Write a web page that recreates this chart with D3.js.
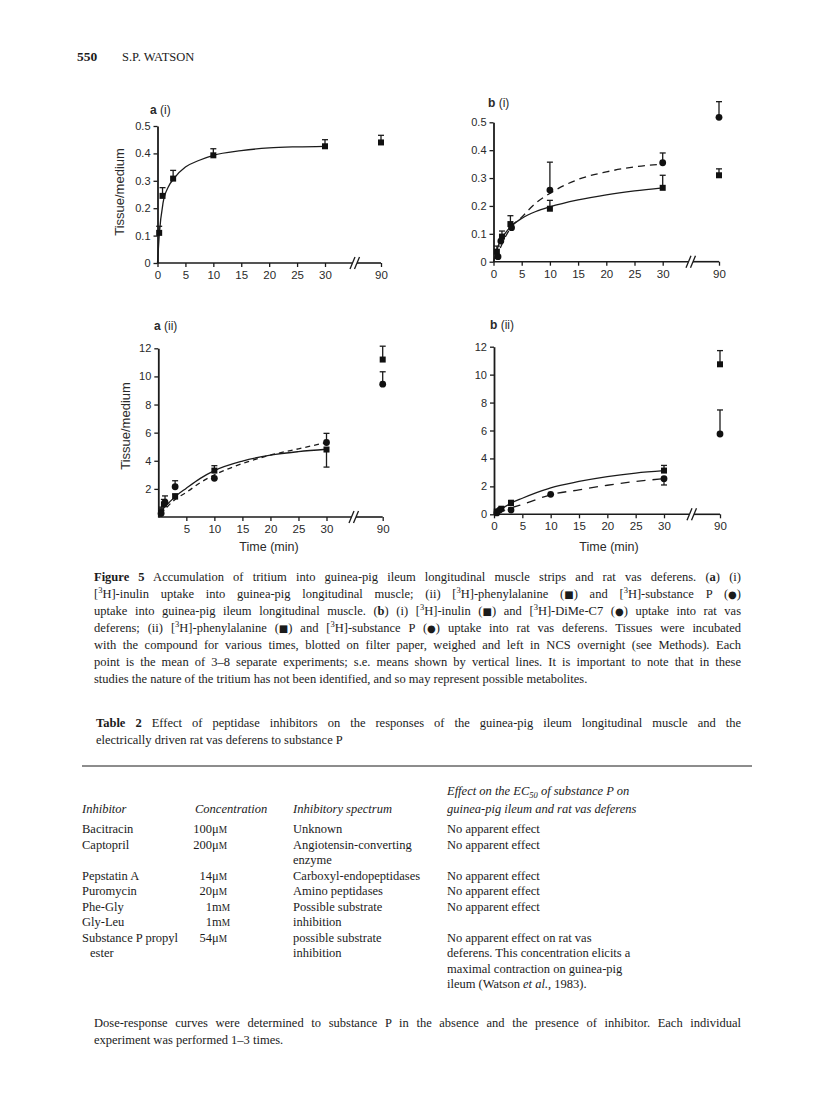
<!DOCTYPE html>
<html>
<head>
<meta charset="utf-8">
<script src="https://cdn.jsdelivr.net/npm/d3@7"></script>
<style>
  body { margin: 0; background: #fff; }
  svg text { font-family: "Liberation Serif", "Times New Roman", serif; fill: #1b1b1b; }
  svg .fig text { font-family: "Liberation Sans", Arial, sans-serif; fill: #2a2a2a; }
</style>
</head>
<body>
<svg id="page" width="816" height="1113"></svg>
<script>
// ---------------- data ----------------
// a (i) [3H]-inulin, guinea-pig ileum
var a1_sq_t  = [0.3, 0.9, 2.8, 10, 30, 90];
var a1_sq    = [0.11, 0.245, 0.308, 0.393, 0.426, 0.44];
var a1_sq_se = [0.024, 0.03, 0.03, 0.024, 0.024, 0.026];
var a1_fit_t = [0, 0.3, 1, 2, 3, 5, 7.5, 10, 15, 20, 25, 30];
var a1_fit   = [0, 0.1, 0.22, 0.28, 0.31, 0.35, 0.375, 0.393, 0.41, 0.42, 0.424, 0.426];

// b (i) [3H]-inulin (squares) and [3H]-DiMe-C7 (circles), rat vas deferens
var b1_sq_t  = [0.6, 1.5, 3, 10, 30, 90];
var b1_sq    = [0.036, 0.09, 0.135, 0.19, 0.265, 0.31];
var b1_sq_se = [0.02, 0.02, 0.03, 0.03, 0.045, 0.023];
var b1_ci_t  = [0.8, 1.3, 3.2, 10, 30, 90];
var b1_ci    = [0.018, 0.074, 0.122, 0.257, 0.355, 0.518];
var b1_ci_se = [0, 0, 0, 0.1, 0.035, 0.056];
var b1_fit_sq_t = [0, 0.5, 1, 2, 3, 5, 7.5, 10, 15, 20, 25, 30];
var b1_fit_sq   = [0, 0.035, 0.065, 0.1, 0.125, 0.155, 0.18, 0.197, 0.222, 0.24, 0.254, 0.265];
var b1_fit_ci_t = [0.3, 1, 2, 3, 5, 7.5, 10, 15, 20, 25, 30];
var b1_fit_ci   = [0.01, 0.04, 0.085, 0.12, 0.16, 0.21, 0.245, 0.295, 0.322, 0.34, 0.35];

// a (ii) [3H]-phenylalanine (squares) and [3H]-substance P (circles), guinea-pig ileum
var a2_sq_t  = [0.5, 1, 3, 10, 30, 90];
var a2_sq    = [0.4, 0.9, 1.45, 3.3, 4.8, 11.2];
var a2_sq_se = [0.3, 0.35, 0.2, 0.35, -1.25, 0.95];
var a2_ci_t  = [0.5, 1.2, 3, 10, 30, 90];
var a2_ci    = [0.25, 1.05, 2.15, 2.75, 5.3, 9.45];
var a2_ci_se = [0.3, 0.45, 0.43, 0, 0.65, 0.88];
var a2_fit_sq_t = [0.3, 1, 3, 5, 7.5, 10, 15, 20, 25, 30];
var a2_fit_sq   = [0.38, 0.65, 1.45, 2.05, 2.75, 3.3, 3.98, 4.4, 4.65, 4.82];
var a2_fit_ci_t = [0.5, 1, 3, 5, 7.5, 10, 15, 20, 25, 30];
var a2_fit_ci   = [0.2, 0.45, 1.25, 1.75, 2.45, 3.0, 3.8, 4.4, 4.85, 5.3];

// b (ii) [3H]-phenylalanine (squares) and [3H]-substance P (circles), rat vas deferens
var b2_sq_t  = [0.5, 1.3, 3, 30, 90];
var b2_sq    = [0.2, 0.4, 0.8, 3.13, 10.74];
var b2_sq_se = [0.1, 0.1, 0.2, 0.37, 0.98];
var b2_ci_t  = [0.5, 1, 3, 10, 30, 90];
var b2_ci    = [0.1, 0.3, 0.3, 1.43, 2.55, 5.75];
var b2_ci_se = [0, 0.1, 0.15, 0, -0.45, 1.72];
var b2_fit_sq_t = [0.3, 1, 3, 5, 7.5, 10, 15, 20, 25, 30];
var b2_fit_sq   = [0.1, 0.3, 0.8, 1.15, 1.55, 1.9, 2.35, 2.7, 2.95, 3.12];
var b2_fit_ci_t = [0.5, 1, 3, 5, 10, 15, 20, 25, 30];
var b2_fit_ci   = [0.05, 0.15, 0.45, 0.7, 1.4, 1.75, 2.08, 2.35, 2.55];

// tick labels
var xTicksFull   = [0, 5, 10, 15, 20, 25, 30, 90];
var xTicksNoZero = [5, 10, 15, 20, 25, 30, 90];
var yTicksSmall  = [0, 0.1, 0.2, 0.3, 0.4, 0.5];
var yTicksLarge  = [0, 2, 4, 6, 8, 10, 12];
var yTicksLargeNoZero = [2, 4, 6, 8, 10, 12];

var svg = d3.select("#page");

// panel frames, measured on the page
var panels = [
  {title: ["a", " (i)"], tx: 150, ty: 114, xl: 157.5, x30: 325, x90: 381, brk: 355, yb: 263, yt: 126, ymax: 0.5,
   yticks: yTicksSmall, xticks: xTicksFull, ylab: [124, 192], xlab: null,
   pts: [{t: a1_sq_t, v: a1_sq, se: a1_sq_se, shape: "sq"}],
   fits: [{t: a1_fit_t, v: a1_fit, dash: null}]},
  {title: ["b", " (i)"], tx: 488, ty: 107, xl: 493.5, x30: 662.7, x90: 719, brk: 691, yb: 261.7, yt: 122.3, ymax: 0.5,
   yticks: yTicksSmall, xticks: xTicksFull, ylab: null, xlab: null,
   pts: [{t: b1_sq_t, v: b1_sq, se: b1_sq_se, shape: "sq"}, {t: b1_ci_t, v: b1_ci, se: b1_ci_se, shape: "ci"}],
   fits: [{t: b1_fit_sq_t, v: b1_fit_sq, dash: null}, {t: b1_fit_ci_t, v: b1_fit_ci, dash: "7,5"}]},
  {title: ["a", " (ii)"], tx: 154, ty: 330, xl: 158.3, x30: 326.5, x90: 382.7, brk: 354, yb: 517, yt: 348.3, ymax: 12,
   yticks: yTicksLargeNoZero, xticks: xTicksNoZero, ylab: [130, 426], xlab: [269, 551],
   pts: [{t: a2_sq_t, v: a2_sq, se: a2_sq_se, shape: "sq"}, {t: a2_ci_t, v: a2_ci, se: a2_ci_se, shape: "ci"}],
   fits: [{t: a2_fit_sq_t, v: a2_fit_sq, dash: null}, {t: a2_fit_ci_t, v: a2_fit_ci, dash: "5,4"}]},
  {title: ["b", " (ii)"], tx: 490, ty: 329, xl: 494, x30: 664, x90: 720, brk: 692, yb: 514.3, yt: 346.7, ymax: 12,
   yticks: yTicksLarge, xticks: xTicksFull, ylab: null, xlab: [609, 551],
   pts: [{t: b2_sq_t, v: b2_sq, se: b2_sq_se, shape: "sq"}, {t: b2_ci_t, v: b2_ci, se: b2_ci_se, shape: "ci"}],
   fits: [{t: b2_fit_sq_t, v: b2_fit_sq, dash: null}, {t: b2_fit_ci_t, v: b2_fit_ci, dash: "9,7"}]}
];

panels.forEach(function(p) {
  var g = svg.append("g").attr("class", "fig").style("color", "#1b1b1b");

  // x has a broken axis: 0-30 then a jump to 90
  var x = d3.scaleLinear().domain([0, 30, 90]).range([p.xl, p.x30, p.x90]);
  var y = d3.scaleLinear().domain([0, p.ymax]).range([p.yb, p.yt]);

  var fmt = p.ymax < 1 ? function(d) { return d === 0 ? "0" : d3.format(".1f")(d); } : d3.format("d");

  var ya = g.append("g")
    .attr("transform", "translate(" + p.xl + ",0)")
    .call(d3.axisLeft(y).tickValues(p.yticks).tickSize(4).tickSizeOuter(0).tickPadding(3).tickFormat(fmt));
  ya.select(".domain").attr("stroke-width", 1.8);
  ya.selectAll(".tick line").attr("stroke-width", 1.3);
  ya.selectAll(".tick text").style("font-size", "11px");

  var xa = g.append("g")
    .attr("transform", "translate(0," + p.yb + ")")
    .call(d3.axisBottom(x).tickValues(p.xticks).tickSize(4).tickPadding(4).tickFormat(d3.format("d")));
  xa.select(".domain").remove();
  xa.selectAll(".tick line").attr("stroke-width", 1.3);
  xa.selectAll(".tick text").style("font-size", "11.5px");

  // axis line with the break
  g.append("line").attr("x1", p.xl).attr("x2", p.brk - 3).attr("y1", p.yb).attr("y2", p.yb)
    .attr("stroke", "#1b1b1b").attr("stroke-width", 1.6);
  g.append("line").attr("x1", p.brk + 2).attr("x2", p.x90).attr("y1", p.yb).attr("y2", p.yb)
    .attr("stroke", "#1b1b1b").attr("stroke-width", 1.6);
  [-2.5, 2].forEach(function(o) {
    g.append("line")
      .attr("x1", p.brk + o - 2.5).attr("y1", p.yb + 6)
      .attr("x2", p.brk + o + 2.5).attr("y2", p.yb - 6)
      .attr("stroke", "#1b1b1b").attr("stroke-width", 1.3);
  });

  // fitted curves
  p.fits.forEach(function(f) {
    var pts = f.t.map(function(t, i) { return [t, f.v[i]]; });
    g.append("path")
      .attr("d", d3.line().x(function(d) { return x(d[0]); }).y(function(d) { return y(d[1]); })
        .curve(d3.curveMonotoneX)(pts))
      .attr("fill", "none").attr("stroke", "#1b1b1b").attr("stroke-width", 1.3)
      .attr("stroke-dasharray", f.dash);
  });

  // points with s.e. bars
  p.pts.forEach(function(s) {
    s.t.forEach(function(t, i) {
      var cx = x(t), cy = y(s.v[i]);
      if (s.se[i] !== 0) {
        var ey = y(s.v[i] + s.se[i]);
        g.append("line").attr("x1", cx).attr("x2", cx).attr("y1", cy).attr("y2", ey)
          .attr("stroke", "#1b1b1b").attr("stroke-width", 1.3);
        g.append("line").attr("x1", cx - 3).attr("x2", cx + 3).attr("y1", ey).attr("y2", ey)
          .attr("stroke", "#1b1b1b").attr("stroke-width", 1.3);
      }
      if (s.shape === "sq") {
        g.append("rect").attr("x", cx - 3).attr("y", cy - 3).attr("width", 6).attr("height", 6).attr("fill", "#111");
      } else {
        g.append("circle").attr("cx", cx).attr("cy", cy).attr("r", 3.4).attr("fill", "#111");
      }
    });
  });

  // labels
  var tt = g.append("text").attr("x", p.tx).attr("y", p.ty).style("font-size", "12px");
  tt.append("tspan").style("font-weight", "bold").text(p.title[0]);
  tt.append("tspan").text(p.title[1]);

  if (p.ylab) {
    g.append("text").attr("transform", "translate(" + p.ylab[0] + "," + p.ylab[1] + ") rotate(-90)")
      .attr("text-anchor", "middle").style("font-size", "13px")
      .text("Tissue/medium");
  }
  if (p.xlab) {
    g.append("text").attr("x", p.xlab[0]).attr("y", p.xlab[1]).attr("text-anchor", "middle")
      .style("font-size", "12.5px").text("Time (min)");
  }
});

// ---------------- page text ----------------
// each line: list of [text, style]; style: b bold, i italic, sup, sub, sc small caps
function writeLine(x, y, segs, size, width) {
  var t = svg.append("text").attr("x", x).attr("y", y).style("font-size", size + "px");
  var shift = 0;
  segs.forEach(function(s) {
    var sp = t.append("tspan").text(s[0]);
    var want = 0;
    if (s[1] === "b") sp.style("font-weight", "bold");
    if (s[1] === "i") sp.style("font-style", "italic");
    if (s[1] === "sup") { want = -5; sp.style("font-size", (size * 0.68) + "px"); }
    if (s[1] === "isub") { want = 2.5; sp.style("font-size", (size * 0.68) + "px").style("font-style", "italic"); }
    if (s[1] === "sc") sp.style("font-size", (size * 0.75) + "px");
    if (s[1] === "sym") sp.style("font-size", (size * 0.8) + "px").style("font-family", "'DejaVu Sans'");
    if (want !== shift) { sp.attr("dy", want - shift); shift = want; }
  });
  if (width) {
    // justify: spread the slack over the word gaps
    var natural = t.node().getComputedTextLength();
    var gaps = segs.map(function(s) { return s[0]; }).join("").split(" ").length - 1;
    if (gaps > 0) t.style("word-spacing", ((width - natural) / gaps) + "px");
  }
  return t;
}

var SQ = ["\u25a0", "sym"], CI = ["\u25cf", "sym"], S3 = ["3", "sup"];

var captionLines = [
  [["Figure 5", "b"], [" Accumulation of tritium into guinea-pig ileum longitudinal muscle strips and rat vas deferens. ("], ["a", "b"], [") (i)"]],
  [["["], S3, ["H]-inulin uptake into guinea-pig longitudinal muscle; (ii) ["], S3, ["H]-phenylalanine ("], SQ, [") and ["], S3, ["H]-substance P ("], CI, [")"]],
  [["uptake into guinea-pig ileum longitudinal muscle. ("], ["b", "b"], [") (i) ["], S3, ["H]-inulin ("], SQ, [") and ["], S3, ["H]-DiMe-C7 ("], CI, [") uptake into rat vas"]],
  [["deferens; (ii) ["], S3, ["H]-phenylalanine ("], SQ, [") and ["], S3, ["H]-substance P ("], CI, [") uptake into rat vas deferens. Tissues were incubated"]],
  [["with the compound for various times, blotted on filter paper, weighed and left in NCS overnight (see Methods). Each"]],
  [["point is the mean of 3\u20138 separate experiments; s.e. means shown by vertical lines. It is important to note that in these"]],
  [["studies the nature of the tritium has not been identified, and so may represent possible metabolites."]]
];

var tableTitleLines = [
  [["Table 2", "b"], [" Effect of peptidase inhibitors on the responses of the guinea-pig ileum longitudinal muscle and the"]],
  [["electrically driven rat vas deferens to substance P"]]
];

var colHeads = ["Inhibitor", "Concentration", "Inhibitory spectrum"];
var effectHead = [
  [["Effect on the EC", "i"], ["50", "isub"], [" of substance P on", "i"]],
  [["guinea-pig ileum and rat vas deferens", "i"]]
];
var colInhibitor = ["Bacitracin", "Captopril", "", "Pepstatin A", "Puromycin", "Phe-Gly", "Gly-Leu", "Substance P propyl", "ester"];
var colConcNum   = ["100", "200", "", "14", "20", "1", "1", "54", ""];
var colConcUnit  = ["\u03bc", "\u03bc", "", "\u03bc", "\u03bc", "m", "m", "\u03bc", ""];
var colSpectrum  = ["Unknown", "Angiotensin-converting", "enzyme", "Carboxyl-endopeptidases", "Amino peptidases",
                    "Possible substrate", "inhibition", "possible substrate", "inhibition"];
var colEffect = [
  [["No apparent effect"]], [["No apparent effect"]], [[""]], [["No apparent effect"]], [["No apparent effect"]],
  [["No apparent effect"]], [[""]], [["No apparent effect on rat vas"]], [["deferens. This concentration elicits a"]],
  [["maximal contraction on guinea-pig"]], [["ileum (Watson "], ["et al.", "i"], [", 1983)."]]
];

var footLines = [
  [["Dose-response curves were determined to substance P in the absence and the presence of inhibitor. Each individual"]],
  [["experiment was performed 1\u20133 times."]]
];

// layout of the text block
var left = 94, right = 741, fs = 12.5;

// running head
writeLine(77, 61, [["550", "b"]], 13.5);
writeLine(122, 61, [["S.P. WATSON"]], 12.5);

captionLines.forEach(function(l, i) {
  writeLine(left, 581 + i * 17, l, fs, i < captionLines.length - 1 ? right - left : null);
});

tableTitleLines.forEach(function(l, i) {
  writeLine(left + 2, 727 + i * 17, l, fs, i === 0 ? right - left - 2 : null);
});

svg.append("line").attr("x1", 82).attr("x2", 752).attr("y1", 766).attr("y2", 766)
  .attr("stroke", "#1b1b1b").attr("stroke-width", 1);

var colX = [82, 195, 293, 447], rowY0 = 833, rowStep = 15.5;

effectHead.forEach(function(l, i) { writeLine(colX[3], 795 + i * 18, l, fs); });
colHeads.forEach(function(h, i) { writeLine(colX[i], 813, [[h, "i"]], fs); });

colInhibitor.forEach(function(s, i) {
  var yy = rowY0 + i * rowStep;
  writeLine(colX[0] + (s === "ester" ? 8 : 0), yy, [[s]], fs);
  if (colConcNum[i]) {
    writeLine(colX[1] + 17, yy, [[colConcNum[i]]], fs).attr("text-anchor", "end");
    writeLine(colX[1] + 17, yy, [[colConcUnit[i]], ["M", "sc"]], fs);
  }
  writeLine(colX[2], yy, [[colSpectrum[i]]], fs);
});
colEffect.forEach(function(l, i) { writeLine(colX[3], rowY0 + i * rowStep, l, fs); });

footLines.forEach(function(l, i) {
  writeLine(left, 1027 + i * 17, l, fs, i === 0 ? right - left : null);
});
</script>
</body>
</html>
